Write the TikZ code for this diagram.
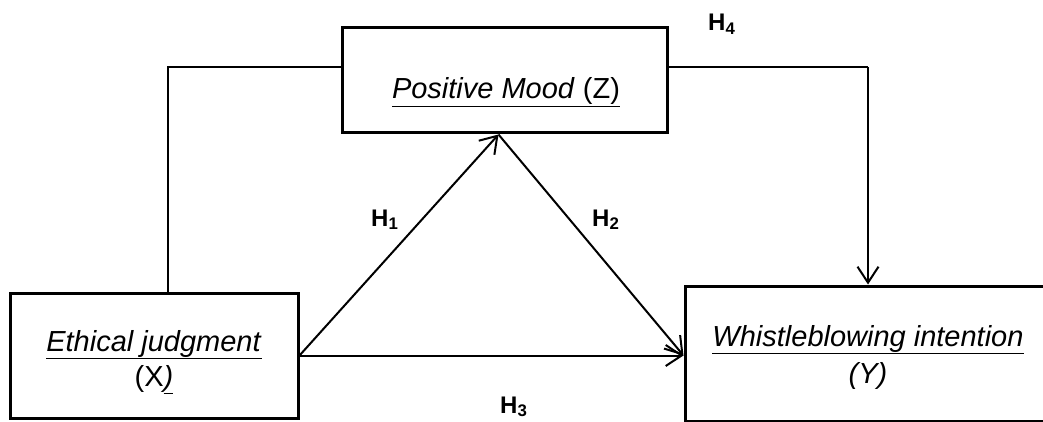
\documentclass[tikz,border=0pt]{standalone}
\usepackage{fontspec}
\setmainfont{Liberation Sans}
\usetikzlibrary{arrows.meta, positioning}

\begin{document}
\begin{tikzpicture}[x=1pt, y=-1pt,
  varbox/.style = {draw, line width=3pt, rectangle, inner sep=0pt},
  vartext/.style = {font=\fontsize{29}{35}\selectfont, inner sep=0pt, anchor=base},
  hyp/.style = {font=\fontsize{24}{28}\selectfont\bfseries, inner sep=0pt, anchor=base west},
  path/.style = {line width=2pt, -{Straight Barb[length=16pt, width=21pt, line width=2pt]}},
  moderate/.style = {line width=1.5pt}]
\useasboundingbox (0,0) rectangle (1043,422);
% boxes
\node[varbox, minimum width=288pt, minimum height=125pt] (ethic) at (154,355.5) {};
\node[varbox, minimum width=325pt, minimum height=105pt] (mood) at (504.5,80.5) {};
\node[varbox, minimum width=361pt, minimum height=135pt] (whistle) at (865.5,353.5) {};
% texts
\node[vartext] (ethicname) at (154,351) {\underline{\textit{Ethical judgment}}};
\node[vartext] (ethicvar) at (154,386) {(X\underline{\textit{)}}};
\node[vartext] (moodname) at (506,99) {\underline{\textit{Positive Mood} (Z)}};
\node[vartext] (whistlename) at (868,346) {\underline{\textit{Whistleblowing intention}}};
\node[vartext] (whistlevar) at (868,383) {\textit{(Y)}};
% hypotheses
\node[hyp] (h1) at (371,226) {H\textsubscript{1}};
\node[hyp] (h2) at (592,226) {H\textsubscript{2}};
\node[hyp] (h3) at (500,413) {H\textsubscript{3}};
\node[hyp] (h4) at (708,31) {H\textsubscript{4}};
% connectors
\coordinate (apex) at ([xshift=-6pt]mood.south);
\coordinate (hit) at (ethic.east -| whistle.west);
\coordinate (fbl) at (168,67);
\coordinate (fbr) at (868,67);
\draw[path] (ethic.east) -- (apex);
\draw[path] (apex) -- (hit);
\draw[path] (ethic.east) -- (hit);
\draw[moderate] (ethic.north -| fbl) -- (fbl) -- (fbl -| mood.west);
\draw[moderate] (fbr -| mood.east) -- (fbr);
\draw[path] (fbr) -- (fbr |- whistle.north);
\end{tikzpicture}
\end{document}
